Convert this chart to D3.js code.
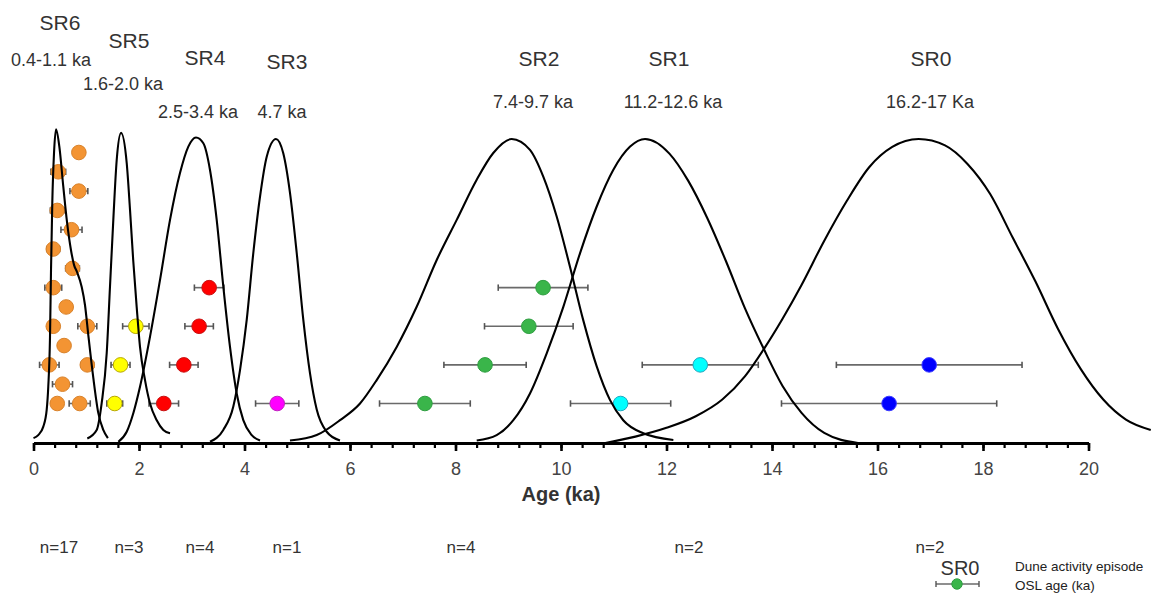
<!DOCTYPE html>
<html><head><meta charset="utf-8">
<script src="https://cdn.jsdelivr.net/npm/d3@7"></script>
<style>
body{margin:0;background:#fff}
svg{display:block}
text{font-family:"Liberation Sans",Arial,sans-serif}
</style></head>
<body><svg id="c" width="1152" height="594"></svg>
<script>
// ---------------- DATA ----------------
const episodes = ["SR6","SR5","SR4","SR3","SR2","SR1","SR0"];
const episodeRanges = ["0.4-1.1 ka","1.6-2.0 ka","2.5-3.4 ka","4.7 ka","7.4-9.7 ka","11.2-12.6 ka","16.2-17 Ka"];
const episodeCounts = ["n=17","n=3","n=4","n=1","n=4","n=2","n=2"];
const xTicks = [0,2,4,6,8,10,12,14,16,18,20];

// OSL ages: [age (ka), error (ka), sample row]
const oslSR6 = [[0.86,0.10,13],[0.47,0.14,12],[0.86,0.17,11],[0.45,0.13,10],[0.72,0.20,9],
  [0.375,0.12,8],[0.74,0.13,7],[0.375,0.16,6],[0.62,0.10,5],[0.375,0.10,4],[1.02,0.18,4],
  [0.58,0.10,3],[0.30,0.185,2],[1.02,0.12,2],[0.55,0.19,1],[0.45,0.10,0],[0.876,0.20,0]];
const oslSR5 = [[1.94,0.25,4],[1.65,0.18,2],[1.54,0.15,0]];
const oslSR4 = [[3.33,0.28,6],[3.14,0.27,4],[2.85,0.27,2],[2.47,0.28,0]];
const oslSR3 = [[4.62,0.41,0]];
const oslSR2 = [[9.66,0.85,6],[9.39,0.84,4],[8.56,0.78,2],[7.42,0.86,0]];
const oslSR1 = [[12.64,1.10,2],[11.13,0.95,0]];
const oslSR0 = [[16.98,1.76,2],[16.22,2.04,0]];

// Probability curves: [age (ka), relative density]
const pdfSR6 = [[0.0,0.016],[0.09,0.026],[0.186,0.054],[0.25,0.109],[0.28,0.185],[0.313,0.35],
  [0.332,0.569],[0.356,0.789],[0.389,0.954],[0.427,1.032],[0.49,0.975],[0.565,0.843],[0.635,0.727],
  [0.71,0.635],[0.768,0.586],[0.825,0.5625],[0.914,0.513],[0.976,0.454],[1.039,0.355],
  [1.134,0.214],[1.228,0.099],[1.323,0.043],[1.41,0.016]];
const pdfSR5 = [[1.02,0.015],[1.198,0.043],[1.293,0.132],[1.388,0.296],[1.45,0.514],[1.513,0.734],
  [1.577,0.93],[1.66,1.02],[1.767,0.921],[1.83,0.766],[1.89,0.602],[1.956,0.448],[2.019,0.316],
  [2.114,0.207],[2.209,0.13],[2.336,0.075],[2.461,0.043],[2.588,0.032]];
const pdfSR4 = [[1.608,0.004],[1.767,0.037],[1.892,0.098],[2.019,0.185],[2.209,0.35],[2.398,0.536],
  [2.588,0.734],[2.777,0.888],[2.935,0.975],[3.08,1.005],[3.22,0.986],[3.346,0.898],[3.473,0.734],
  [3.598,0.515],[3.725,0.316],[3.852,0.163],[3.977,0.075],[4.137,0.026],[4.294,0.008]];
const pdfSR3 = [[3.346,0.004],[3.598,0.043],[3.788,0.12],[3.915,0.24],[4.042,0.405],[4.167,0.625],
  [4.294,0.81],[4.42,0.941],[4.597,1.0],[4.735,0.953],[4.863,0.822],[4.99,0.625],[5.115,0.405],
  [5.242,0.229],[5.369,0.11],[5.558,0.037],[5.81,0.008]];
const pdfSR2 = [[4.862,0.008],[5.369,0.026],[5.81,0.075],[6.19,0.13],[6.506,0.207],[6.885,0.316],
  [7.264,0.448],[7.644,0.602],[8.023,0.734],[8.402,0.866],[8.716,0.954],[9.065,1.0],[9.412,0.964],
  [9.664,0.876],[9.918,0.745],[10.17,0.58],[10.42,0.405],[10.677,0.252],[10.93,0.141],
  [11.18,0.075],[11.56,0.032],[12.13,0.01]];
const pdfSR1 = [[8.402,0.008],[8.78,0.026],[9.096,0.075],[9.412,0.163],[9.729,0.295],[10.044,0.448],
  [10.36,0.624],[10.677,0.778],[10.99,0.898],[11.31,0.975],[11.594,1.0],[12.055,0.952],
  [12.41,0.863],[12.77,0.741],[13.13,0.597],[13.49,0.442],[13.845,0.309],[14.2,0.1875],
  [14.56,0.099],[14.99,0.033],[15.63,0.0]];
const pdfSR0 = [[10.84,0.0],[11.41,0.021],[11.985,0.049],[12.555,0.088],[13.058,0.143],[13.49,0.22],
  [13.845,0.309],[14.2,0.409],[14.56,0.52],[14.986,0.664],[15.42,0.797],[15.846,0.908],
  [16.28,0.974],[16.78,1.0],[17.28,0.979],[17.706,0.918],[18.136,0.819],[18.565,0.675],
  [18.995,0.531],[19.42,0.376],[19.854,0.243],[20.28,0.143],[20.71,0.077],[21.18,0.043]];

// ---------------- LAYOUT / STYLE ----------------
const oslGroups = [oslSR6,oslSR5,oslSR4,oslSR3,oslSR2,oslSR1,oslSR0];
const pdfGroups = [pdfSR6,pdfSR5,pdfSR4,pdfSR3,pdfSR2,pdfSR1,pdfSR0];
const fills   = ["#F39433","#FFFF00","#FF0000","#FF00FF","#3AB54A","#00FFFF","#0000FF"];
const strokes = ["#D9822A","#B8A800","#C81010","#C020C0","#2E9E40","#20A8C0","#3A3AFF"];
const header = [ // pixel layout for the episode annotations
  {nx:60,  ny:30,   rx:51,  ry:65.5},
  {nx:129, ny:48,   rx:123, ry:89.5},
  {nx:205, ny:65,   rx:198, ry:117.5},
  {nx:287, ny:68.5, rx:282, ry:117.5},
  {nx:539, ny:65.5, rx:533, ry:107.5},
  {nx:669, ny:65.5, rx:673, ry:107.5},
  {nx:931, ny:65.5, rx:930, ry:107.5}];
const countX = [59,129,200,287,461,689,930];

const svg = d3.select("#c");
const x = d3.scaleLinear().domain([0,20]).range([33.5,1088.5]);
const yDen = d3.scaleLinear().domain([0,1]).range([443,139]);
const yRow = d3.scaleLinear().domain([0,13]).range([403.5,152.5]);
const R = 7.3;

// OSL points with error bars
oslGroups.forEach((g,i)=>{
  const gg = svg.append("g");
  g.forEach(d=>{
    const [a,e,r] = d, cy = yRow(r);
    gg.append("line").attr("x1",x(a-e)).attr("x2",x(a+e)).attr("y1",cy).attr("y2",cy)
      .attr("stroke","#6a6a6a").attr("stroke-width",1.6);
    [a-e,a+e].forEach(v=>gg.append("line").attr("x1",x(v)).attr("x2",x(v))
      .attr("y1",cy-3.2).attr("y2",cy+3.2).attr("stroke","#555").attr("stroke-width",1.6));
  });
  g.forEach(d=>{
    gg.append("circle").attr("cx",x(d[0])).attr("cy",yRow(d[2])).attr("r",R)
      .attr("fill",fills[i]).attr("stroke",strokes[i]).attr("stroke-width",1);
  });
});

// density curves
const line = d3.line().x(d=>x(d[0])).y(d=>yDen(d[1])).curve(d3.curveMonotoneX);
pdfGroups.forEach(p=>{
  svg.append("path").attr("d",line(p)).attr("fill","none").attr("stroke","#000").attr("stroke-width",2.1);
});

// axis
const minor = d3.range(0,20.001,0.4);
const gMinor = svg.append("g").attr("transform","translate(0,443)")
  .call(d3.axisBottom(x).tickValues(minor).tickSize(5).tickFormat(""));
gMinor.selectAll(".tick line").attr("stroke","#000").attr("stroke-width",2.2);
gMinor.select(".domain").remove();
const gAx = svg.append("g").attr("transform","translate(0,443)")
  .call(d3.axisBottom(x).tickValues(xTicks).tickSize(8).tickPadding(11).tickSizeOuter(0));
gAx.select(".domain").attr("stroke","#000").attr("stroke-width",3.2);
gAx.selectAll(".tick line").attr("stroke","#000").attr("stroke-width",2.6);
gAx.selectAll(".tick text").attr("font-size",18).attr("fill","#444")
  .attr("font-family",'"Liberation Sans",Arial,sans-serif');

svg.append("text").attr("x",x(10)).attr("y",501).attr("text-anchor","middle")
  .attr("font-size",20).attr("font-weight","bold").attr("fill","#333").text("Age (ka)");

// episode headers
episodes.forEach((e,i)=>{
  svg.append("text").attr("x",header[i].nx).attr("y",header[i].ny).attr("text-anchor","middle")
    .attr("font-size",21).attr("fill","#333").text(e);
  svg.append("text").attr("x",header[i].rx).attr("y",header[i].ry).attr("text-anchor","middle")
    .attr("font-size",18).attr("fill","#333").text(episodeRanges[i]);
  svg.append("text").attr("x",countX[i]).attr("y",553).attr("text-anchor","middle")
    .attr("font-size",17).attr("fill","#333").text(episodeCounts[i]);
});

// legend
svg.append("text").attr("x",960).attr("y",574.5).attr("text-anchor","middle")
  .attr("font-size",20).attr("fill","#333").text("SR0");
const narrow = '"Liberation Sans Narrow","Arial Narrow","Liberation Sans",sans-serif';
svg.append("text").attr("x",1015).attr("y",571).attr("font-size",13.5).attr("fill","#222")
  .attr("font-family",narrow).text("Dune activity episode");
svg.append("text").attr("x",1015).attr("y",590).attr("font-size",13.5).attr("fill","#222")
  .attr("font-family",narrow).text("OSL age (ka)");
svg.append("line").attr("x1",936).attr("x2",979).attr("y1",584).attr("y2",584)
  .attr("stroke","#6a6a6a").attr("stroke-width",1.4);
[936,979].forEach(v=>svg.append("line").attr("x1",v).attr("x2",v).attr("y1",581).attr("y2",587)
  .attr("stroke","#555").attr("stroke-width",1.4));
svg.append("circle").attr("cx",957).attr("cy",584).attr("r",5.2).attr("fill","#3AB54A").attr("stroke","#2E9E40");
</script></body></html>
